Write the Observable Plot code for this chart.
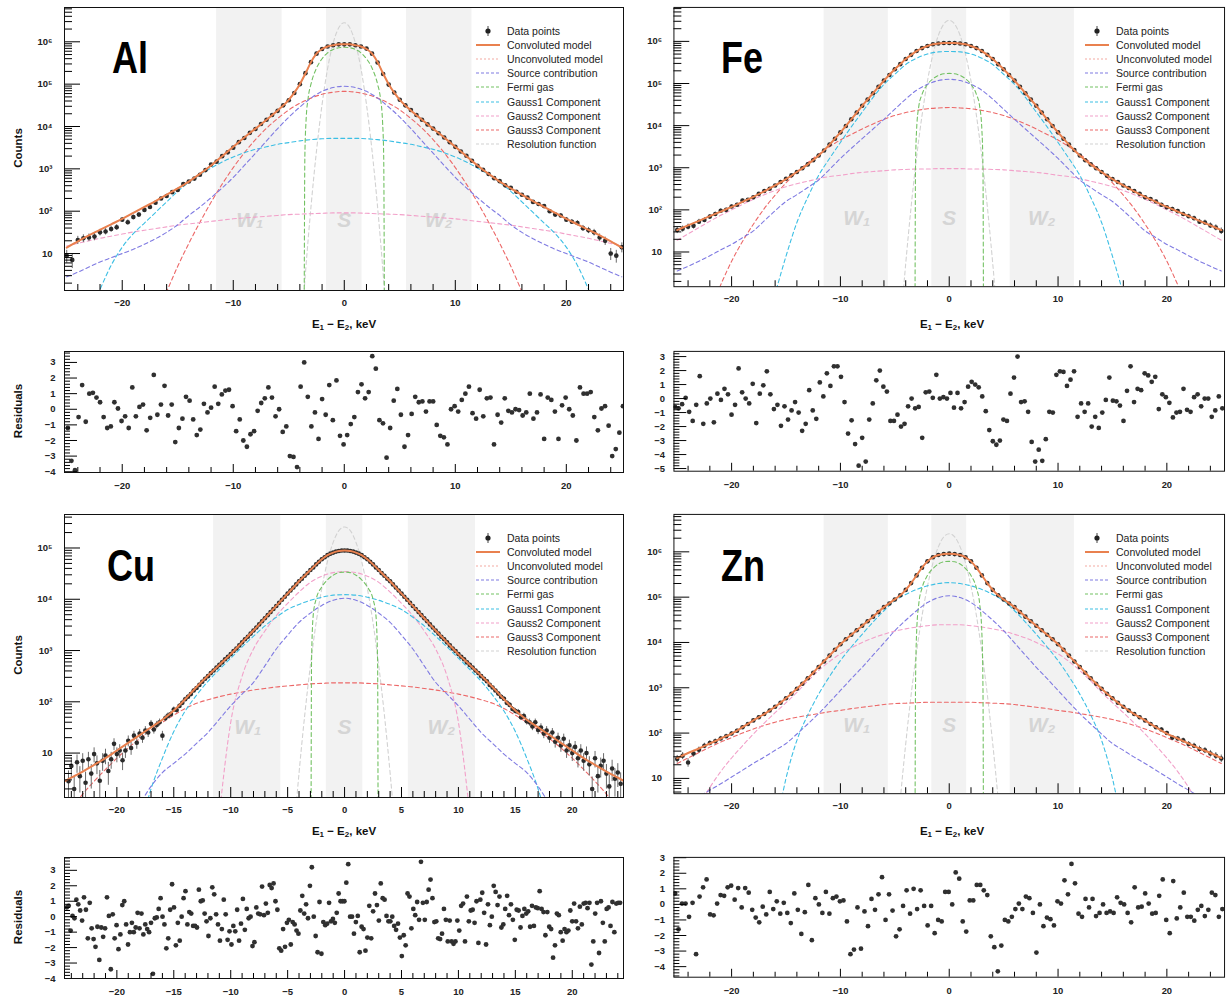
<!DOCTYPE html>
<html><head><meta charset="utf-8">
<script src="https://cdn.jsdelivr.net/npm/d3@7"></script>
<script src="https://cdn.jsdelivr.net/npm/@observablehq/plot@0.6"></script>
<style>
html,body{margin:0;padding:0;background:#fff;}
#root{position:relative;width:1229px;height:1000px;overflow:hidden;background:#fff;font-family:"Liberation Sans",Arial,sans-serif;}
.abs{position:absolute;}
.legend{position:absolute;font-size:10.5px;color:#222;}
.legend .row{height:14.1px;display:flex;align-items:center;white-space:nowrap;}
.legend svg{width:26px;height:14px;margin-right:6px;flex:none;}
.vlab{position:absolute;font-weight:bold;font-size:11.5px;color:#111;transform:translate(-50%,-50%) rotate(-90deg);white-space:nowrap;}
.xlab{position:absolute;font-weight:bold;font-size:11.5px;color:#111;transform:translate(-50%,-50%);white-space:nowrap;}
.xlab sub{font-size:8px;vertical-align:-2px;}
.elem{position:absolute;}
</style></head>
<body><div id="root"></div>
<script>
// ---------------- grids (keV, |E1-E2|, curves are symmetric) ----------------
const gridH = [0,0.5,1,1.5,2,2.5,3,3.5,4,4.5,5,6,7,8,9,10,11,12,13,14,15,16,17,18,19,20,21,22,23,24,25];
const gridB = [0,1,2,3,4,5,6,7,8,9,10,11,12,13,14,15,16,17,18,19,20,21,22,23,24,25];
const gridN = [0,0.5,1,1.5,2,2.5,3,3.5,4,4.5,5];

// ---------------- Al (log10 counts) ----------------
const alConv = [5.94,5.94,5.92,5.89,5.83,5.72,5.52,5.25,5.0,4.8,4.63,4.38,4.16,3.95,3.74,3.52,3.3,3.08,2.88,2.7,2.54,2.39,2.24,2.1,1.96,1.82,1.69,1.56,1.43,1.29,1.14];
const alUnconv = alConv;
const alSource = [4.95,4.92,4.83,4.67,4.46,4.22,3.95,3.66,3.37,3.08,2.8,2.55,2.32,2.1,1.9,1.68,1.5,1.35,1.22,1.1,1.0,0.9,0.8,0.68,0.56,0.45];
const alG1 = [3.72,3.72,3.71,3.69,3.66,3.62,3.58,3.52,3.46,3.38,3.28,3.16,3.02,2.86,2.68,2.47,2.22,1.97,1.72,1.47,1.15,0.72,0.15,-0.5,-1.2,-2.0];
const alG2 = [1.96,1.96,1.95,1.94,1.93,1.92,1.9,1.88,1.86,1.84,1.82,1.79,1.76,1.73,1.7,1.67,1.63,1.59,1.55,1.51,1.46,1.41,1.36,1.3,1.24,1.18];
const alG3 = [4.83,4.81,4.76,4.67,4.55,4.39,4.19,3.96,3.69,3.38,3.03,2.64,2.21,1.74,1.24,0.7,0.1,-0.5,-1.2,-2.0,-2.8,-3.6,-4.5,-5.5,-6.5,-7.5];
const alRes = [6.45,6.33,5.97,5.37,4.52,3.43,2.1,0.53,-1.3,-3.4,-5.7];
const alFermiX = [0,0.5,1,1.5,2,2.5,3,3.25,3.45,3.55,3.62];
const alFermi = [5.87,5.86,5.82,5.74,5.6,5.38,5.0,4.68,4.1,3.3,-1];
const alData = [0.95,0.85,1.32,1.36,1.38,1.4,1.5,1.52,1.58,1.62,1.8,1.74,1.86,1.92,2.03,2.1,2.2,2.3,2.36,2.45,2.5,2.64,2.7,2.77,2.86,2.97,3.1,3.17,3.3,3.39,3.5,3.63,3.73,3.85,3.94,4.06,4.16,4.27,4.37,4.5,4.62,4.79,5.0,5.26,5.52,5.72,5.83,5.89,5.92,5.94,5.94,5.94,5.92,5.89,5.84,5.72,5.51,5.24,4.99,4.8,4.63,4.5,4.39,4.27,4.16,4.05,3.95,3.84,3.74,3.63,3.52,3.41,3.31,3.19,3.07,2.98,2.88,2.78,2.71,2.61,2.55,2.46,2.39,2.32,2.22,2.17,2.12,2.0,1.92,1.9,1.8,1.75,1.72,1.6,1.55,1.5,1.38,1.3,1.0,0.95,1.15];
const alResid = [-1.2,-3.3,-3.9,-0.5,1.55,-0.8,1.0,1.05,0.75,0.45,-0.5,-1.2,-1.1,0.45,0.05,-0.75,-0.45,-1.2,1.4,-0.45,0.15,0.3,-1.35,-0.55,2.2,-0.35,0.3,1.5,-0.4,0.3,-2.1,-1.2,-0.6,0.8,0.55,-0.65,-1.65,-1.3,0.35,-0.2,0.1,1.45,0.35,0.95,1.2,1.25,0.2,-1.4,-0.65,-2.0,-2.4,-1.6,-1.4,-0.1,0.4,0.7,1.4,0.75,-0.45,0.0,-1.45,-1.1,-3.0,-3.05,-3.7,1.45,3.0,0.8,-1.1,-0.2,-1.9,0.65,-0.35,1.55,-0.7,1.85,-1.7,-2.25,-1.65,-0.95,-0.5,1.1,1.6,0.7,1.1,3.4,2.6,-0.7,-0.9,-3.1,-1.2,0.55,1.3,-0.35,-2.4,-1.65,-0.3,0.8,0.45,0.5,-0.15,0.5,0.5,-1.0,-1.7,-1.8,-2.25,0.0,0.2,-0.15,0.6,1.0,1.45,-0.25,-0.6,1.25,-0.45,0.7,0.75,-2.25,-0.35,-0.85,0.7,-0.1,-0.2,0.0,-0.05,-0.4,-0.2,1.0,-0.6,-0.2,0.95,-1.9,0.75,0.6,-0.15,-1.9,0.25,0.75,0.0,-0.4,-2.0,1.4,1.0,1.0,1.1,-0.5,-1.35,0.05,0.2,-1.05,-3.0,-2.55,-1.5,0.2];

// ---------------- Fe ----------------
const feConv = [5.96,5.96,5.95,5.93,5.89,5.84,5.77,5.68,5.58,5.46,5.34,5.07,4.77,4.47,4.15,3.84,3.55,3.29,3.08,2.9,2.73,2.58,2.44,2.31,2.19,2.07,1.96,1.85,1.74,1.63,1.52];
const feUnconv = feConv;
const feSource = [5.1,5.07,4.98,4.84,4.63,4.39,4.15,3.92,3.69,3.46,3.22,2.96,2.71,2.53,2.36,2.2,1.98,1.74,1.5,1.34,1.18,1.05,0.91,0.78,0.66,0.55];
const feG1 = [5.76,5.75,5.7,5.6,5.45,5.22,4.98,4.67,4.32,3.97,3.6,3.22,2.82,2.3,1.7,0.9,0.0,-1.0,-2.1,-3.3,-4.6,-6,-7.5,-9,-10.5,-12];
const feG2 = [2.98,2.98,2.97,2.97,2.96,2.95,2.93,2.91,2.89,2.86,2.82,2.79,2.74,2.68,2.62,2.55,2.46,2.36,2.25,2.13,2.0,1.87,1.73,1.58,1.43,1.28];
const feG3 = [4.43,4.42,4.4,4.36,4.31,4.24,4.15,4.04,3.92,3.79,3.66,3.5,3.32,3.12,2.9,2.64,2.35,2.03,1.66,1.25,0.78,0.22,-0.4,-1.1,-1.9,-2.8];
const feRes = [6.5,6.41,6.14,5.69,5.06,4.24,3.25,2.08,0.72,-0.8,-2.5];
const feFermiX = [0,0.5,1,1.5,2,2.5,2.8,3.0,3.1,3.15];
const feFermi = [5.24,5.23,5.19,5.11,4.98,4.74,4.45,3.9,3.0,-1];
const feData = [1.52,1.55,1.6,1.62,1.72,1.76,1.84,1.9,1.98,2.0,2.08,2.12,2.22,2.24,2.3,2.38,2.45,2.5,2.58,2.66,2.74,2.82,2.9,2.99,3.08,3.18,3.29,3.41,3.55,3.69,3.84,3.99,4.15,4.31,4.47,4.62,4.77,4.92,5.07,5.2,5.34,5.46,5.58,5.68,5.77,5.84,5.89,5.93,5.95,5.96,5.96,5.96,5.95,5.93,5.89,5.84,5.77,5.68,5.58,5.46,5.34,5.2,5.07,4.92,4.77,4.62,4.47,4.31,4.15,3.99,3.84,3.69,3.55,3.42,3.29,3.18,3.08,2.99,2.9,2.81,2.73,2.66,2.58,2.52,2.45,2.38,2.3,2.26,2.2,2.12,2.06,2.02,1.97,1.9,1.85,1.8,1.72,1.7,1.63,1.58,1.5];
const feResid = [-0.6,-0.7,-0.4,0.05,-0.95,-1.6,-0.45,1.6,-1.8,-0.35,0.0,-1.7,0.35,-0.1,0.7,0.3,-1.15,-0.45,2.15,0.45,0.0,-0.35,1.05,-1.75,0.35,0.95,1.95,0.3,-0.75,-0.45,-1.95,-0.55,-1.5,-0.85,-0.25,-1.0,-2.3,-1.8,0.6,-0.85,-1.45,1.15,0.15,1.8,0.9,2.3,2.3,1.55,-0.25,-2.5,-1.55,-3.25,-4.8,-2.8,-4.5,-1.5,-0.35,1.3,2.0,0.85,0.5,-1.6,-1.6,-1.15,-2.0,-1.8,-0.55,0.0,-0.7,-0.6,-2.8,0.45,0.5,0.05,1.7,0.0,0.1,0.0,0.4,-0.65,0.4,-0.7,-0.25,0.85,1.2,1.0,0.8,0.15,-0.9,-2.25,-3.05,-3.3,-3.0,-1.5,-1.6,0.35,1.5,3.0,-0.25,-0.2,-0.95,-3.1,-4.5,-3.65,-4.45,-2.9,-0.95,-1.0,1.7,1.95,1.9,0.9,1.35,1.95,-1.3,-0.35,-0.95,-0.35,-2.0,-1.3,-2.1,-1.0,-0.1,1.5,-0.15,-0.2,-0.5,-1.6,0.55,2.3,-0.25,0.7,0.6,1.8,1.65,1.2,1.55,-0.75,0.3,0.1,-0.3,-1.35,-1.0,-0.95,0.7,-0.8,-0.95,0.1,0.3,-0.55,0.0,0.0,-1.3,-0.85,0.15,-0.7];

// ---------------- Cu ----------------
const cuConv = [4.95,4.94,4.91,4.86,4.78,4.68,4.57,4.46,4.35,4.23,4.11,3.87,3.63,3.39,3.16,2.93,2.72,2.51,2.29,2.05,1.83,1.65,1.5,1.35,1.2,1.05,0.9,0.77,0.64,0.52,0.4];
const cuUnconv = cuConv;
const cuSource = [4.02,3.98,3.88,3.73,3.55,3.3,3.03,2.7,2.38,2.15,1.92,1.66,1.4,1.19,0.98,0.8,0.62,0.35,0.0,-0.4,-0.8,-1.2,-1.6,-2.0,-2.4,-2.8];
const cuG1 = [4.09,4.08,4.04,3.98,3.9,3.8,3.65,3.48,3.28,3.07,2.85,2.63,2.4,2.13,1.82,1.42,0.9,0.3,-0.5,-1.5,-2.7,-4,-5.5,-7,-8.5,-10];
const cuG2 = [4.54,4.52,4.45,4.33,4.14,3.92,3.68,3.38,3.03,2.5,1.6,-0.2,-2.5,-5,-7.5,-10,-12.5,-15,-17.5,-20,-22.5,-25,-27.5,-30,-32.5,-35];
const cuG3 = [2.37,2.37,2.36,2.35,2.33,2.31,2.29,2.26,2.23,2.19,2.15,2.1,2.04,1.97,1.87,1.74,1.6,1.45,1.28,1.1,0.9,0.68,0.45,0.2,-0.08,-0.4];
const cuRes = [5.41,5.34,5.11,4.74,4.21,3.54,2.71,1.74,0.61,-0.67,-2.1];
const cuFermiX = [0,0.5,1,1.5,2,2.5,2.75,2.9,2.95];
const cuFermi = [4.53,4.52,4.47,4.38,4.24,4.0,3.7,2.8,-1];
const cuData = [0.45,0.75,0.3,0.82,0.55,0.85,0.42,0.88,0.6,0.98,0.8,0.46,0.85,0.95,0.65,0.88,1.18,0.98,1.05,0.86,1.05,1.24,1.1,1.34,1.2,1.38,1.3,1.44,1.4,1.57,1.46,1.55,1.6,1.34,1.68,1.73,1.76,1.85,1.84,1.92,1.98,2.05,2.1,2.15,2.22,2.27,2.33,2.39,2.45,2.5,2.56,2.61,2.67,2.72,2.77,2.83,2.88,2.93,2.99,3.04,3.1,3.16,3.22,3.27,3.33,3.39,3.45,3.51,3.57,3.63,3.69,3.75,3.81,3.87,3.93,3.99,4.05,4.11,4.17,4.23,4.29,4.35,4.4,4.46,4.51,4.57,4.62,4.68,4.73,4.78,4.82,4.86,4.89,4.91,4.93,4.94,4.95,4.95,
4.95,4.94,4.93,4.91,4.89,4.86,4.82,4.78,4.73,4.68,4.62,4.57,4.51,4.46,4.4,4.35,4.29,4.23,4.17,4.11,4.05,3.99,3.93,3.87,3.81,3.75,3.69,3.63,3.57,3.51,3.45,3.39,3.33,3.27,3.22,3.16,3.1,3.04,2.99,2.93,2.88,2.83,2.77,2.72,2.67,2.61,2.56,2.5,2.45,2.4,2.33,2.28,2.22,2.16,2.1,2.06,1.98,1.94,1.86,1.82,1.8,1.7,1.72,1.62,1.6,1.52,1.6,1.45,1.5,1.38,1.44,1.3,1.4,1.22,1.3,1.15,1.28,1.05,1.15,1.0,1.12,0.9,1.05,0.85,1.0,0.78,0.3,0.9,0.55,0.75,0.85,0.6,0.35,0.7,0.5,0.62,0.4];
const cuResid = [0.6,0.7,-0.9,0.05,-0.1,1.1,0.8,0.4,-0.25,1.25,0.45,-1.4,0.9,-0.75,-1.45,-1.95,-0.65,-2.8,-0.7,-1.3,-0.75,1.25,0.05,-3.4,0.15,-1.4,-0.55,-2.1,-1.15,0.75,1.0,-0.5,-1.8,-1.0,-0.4,-1.0,-0.7,0.25,-0.75,0.2,-1.15,-0.5,-0.8,-1.0,-0.4,-3.7,-0.1,-0.05,0.5,1.2,0.0,-0.5,-2.05,-1.4,0.45,2.1,0.6,-1.85,-0.4,-1.55,0.0,1.2,1.65,-0.5,0.3,0.2,-0.6,-0.6,-0.7,1.75,1.0,1.05,0.2,-0.3,-1.25,-0.1,1.9,1.45,0.15,-0.5,-1.55,-0.8,1.1,0.15,-1.5,-0.95,-1.8,-0.6,-0.95,0.45,-1.55,-0.45,1.15,-0.85,0.5,-0.1,0.0,-1.9,-1.65,0.6,0.2,0.15,1.95,0.1,0.85,0.25,2.05,1.85,2.15,1.0,0.45,-2.05,-2.2,-0.8,-1.95,-0.4,-0.2,-1.8,-0.35,-0.5,-0.9,-1.1,0.4,1.35,0.2,0.8,-0.1,2.0,3.2,0.0,-1.25,-2.3,0.95,-2.4,-0.35,-0.55,-0.45,0.9,-0.3,-0.15,-0.4,0.25,1.5,1.0,1.0,1.0,2.2,3.4,0.0,0.0,-1.1,-0.35,0.05,-2.3,-0.65,-0.8,-2.2,-1.35,0.7,-1.4,0.35,1.5,0.75,-0.25,2.15,1.2,1.1,0.05,-0.3,-0.3,0.0,-0.6,-0.85,-0.45,-1.35,-2.55,-1.2,-1.85,1.5,1.3,-0.75,0.5,0.1,0.95,-0.2,3.55,0.9,-0.2,0.95,1.75,2.4,1.2,-0.35,-0.3,-1.4,-1.45,-1.1,0.5,-0.2,-1.6,-0.25,-1.6,-1.75,-1.6,-0.25,-0.9,0.7,0.85,-1.6,1.3,-0.3,0.4,0.45,-0.4,1.0,-1.7,1.1,1.55,0.25,-1.8,0.8,-0.55,0.0,2.0,1.6,0.75,1.3,-0.7,-0.5,0.5,1.35,0.1,0.8,-0.2,-1.5,0.45,0.4,-0.7,0.05,0.5,0.2,0.35,-0.65,0.7,-0.6,0.6,0.55,1.65,0.5,0.3,-1.2,0.3,-0.65,-0.8,-2.65,-1.85,0.2,0.1,-1.0,-1.55,-0.8,-1.0,-0.9,0.4,-0.3,0.85,-0.3,-0.75,0.65,-0.5,0.85,0.9,0.55,0.9,-3.1,-1.6,0.2,0.9,-2.35,1.0,-0.4,-1.6,0.5,0.6,-0.6,0.95,-1.0,0.85,0.9,0.9];

// ---------------- Zn ----------------
const znConv = [5.96,5.95,5.93,5.88,5.79,5.65,5.48,5.31,5.16,5.04,4.95,4.78,4.57,4.37,4.17,3.96,3.71,3.46,3.21,2.98,2.77,2.58,2.42,2.28,2.13,1.99,1.88,1.77,1.66,1.56,1.45];
const znUnconv = znConv;
const znSource = [5.03,4.99,4.88,4.7,4.49,4.26,3.99,3.72,3.45,3.2,2.94,2.68,2.43,2.2,1.98,1.77,1.62,1.47,1.33,1.18,1.03,0.88,0.74,0.6,0.46,0.32];
const znG1 = [5.32,5.3,5.25,5.17,5.06,4.92,4.7,4.45,4.18,3.9,3.6,3.25,2.86,2.4,1.84,1.0,-0.2,-1.6,-3.2,-5,-7,-9,-11,-13,-15,-17];
const znG2 = [4.39,4.39,4.37,4.34,4.3,4.25,4.18,4.1,4.0,3.88,3.75,3.58,3.38,3.15,2.9,2.67,2.45,2.22,1.98,1.72,1.45,1.15,0.8,0.4,-0.1,-0.7];
const znG3 = [2.68,2.68,2.68,2.67,2.66,2.65,2.63,2.6,2.57,2.54,2.5,2.47,2.43,2.39,2.35,2.3,2.24,2.17,2.09,2.0,1.9,1.8,1.69,1.57,1.45,1.33];
const znRes = [6.4,6.33,6.11,5.75,5.24,4.59,3.79,2.85,1.76,0.53,-0.85];
const znFermiX = [0,0.5,1,1.5,2,2.5,2.8,3.0,3.1,3.15];
const znFermi = [5.79,5.78,5.73,5.63,5.48,5.2,4.85,4.2,3.0,-1];
const znData = [1.43,1.5,1.35,1.55,1.63,1.72,1.78,1.82,1.88,1.93,1.99,2.05,2.13,2.2,2.28,2.35,2.42,2.5,2.58,2.67,2.77,2.87,2.98,3.09,3.21,3.33,3.46,3.58,3.71,3.84,3.96,4.07,4.17,4.27,4.37,4.47,4.57,4.67,4.78,4.86,4.95,5.04,5.16,5.31,5.48,5.65,5.79,5.88,5.93,5.95,5.96,5.95,5.93,5.88,5.79,5.65,5.48,5.31,5.16,5.04,4.95,4.86,4.78,4.67,4.57,4.47,4.37,4.27,4.17,4.07,3.96,3.84,3.71,3.58,3.46,3.33,3.21,3.09,2.98,2.87,2.77,2.67,2.58,2.5,2.42,2.35,2.28,2.2,2.13,2.08,2.0,1.9,1.88,1.84,1.76,1.72,1.65,1.62,1.55,1.5,1.44];
const znResid = [0.7,-1.6,0.05,0.05,-0.8,0.1,-3.2,0.5,1.1,1.6,-0.65,-0.7,0.05,0.6,0.55,1.1,1.2,0.3,1.05,-0.2,1.05,0.75,-0.35,-0.85,-1.15,-0.15,-0.65,0.8,-0.3,0.2,-0.6,0.1,-0.55,-1.2,0.7,-0.35,-1.9,-0.5,1.25,-2.3,0.4,0.0,-0.55,0.8,-0.6,0.4,0.5,0.2,0.25,-1.1,-3.2,-2.9,-0.2,-2.85,-0.45,-1.4,0.35,-0.35,0.65,1.75,-1.0,0.65,-0.4,-2.05,-1.6,-0.1,0.9,-0.6,1.0,-0.3,0.9,-0.1,-1.35,-0.1,-1.85,-1.0,-1.1,0.8,0.8,0.0,2.05,1.65,-1.1,-1.75,0.25,0.25,1.25,1.25,0.9,0.6,-2.05,-2.75,-4.3,-2.65,-1.0,-1.1,-0.8,-0.3,0.05,-0.3,0.5,0.4,-0.55,-3.1,0.0,-1.4,-0.85,-0.95,-1.35,0.2,0.05,1.55,0.65,2.6,1.35,-0.6,-0.8,0.35,-0.2,0.35,-0.75,-0.55,0.0,-0.55,-0.45,-0.55,0.45,0.1,0.0,-0.55,-1.15,1.1,-0.2,-0.15,0.7,0.05,-0.6,-0.55,0.55,1.6,-1.0,-1.85,1.5,-0.9,-0.2,0.75,-0.8,-0.8,-1.05,-0.35,-0.1,-0.75,-0.35,0.75,0.6,-0.8,-0.3];

// ---------------- regions, ticks, labels ----------------
const bands = [{a:-11.5,b:-5.6},{a:-1.6,b:1.6},{a:5.6,b:11.5}];
const bandLabels = [{x:-8.5,t:"W₁"},{x:0,t:"S"},{x:8.5,t:"W₂"}];
const ticks10 = [-20,-10,0,10,20];
const ticks5 = [-20,-15,-10,-5,0,5,10,15,20];
const decades6 = [10,1e2,1e3,1e4,1e5,1e6];
const decades5 = [10,1e2,1e3,1e4,1e5];
const legendLabels = ["Data points","Convoluted model","Unconvoluted model","Source contribution","Fermi gas","Gauss1 Component","Gauss2 Component","Gauss3 Component","Resolution function"];
const elementNames = ["Al","Fe","Cu","Zn"];

const colors = {conv:"#e9814f", unconv:"#f3aaa2", source:"#7f7ae2", fermi:"#73c163", g1:"#3cbfe4", g2:"#f2a0c9", g3:"#ec6868", res:"#d2d2d2"};
const legendKeys = ["data","conv","unconv","source","fermi","g1","g2","g3","res"];

const sup = {2:"²",3:"³",4:"⁴",5:"⁵",6:"⁶"};
const fmtPow = d => { const e = Math.round(Math.log10(d)); return e === 1 ? "10" : "10" + sup[e]; };

function mirror(xs, vs) {
  const pts = [];
  for (let i = xs.length - 1; i > 0; i--) pts.push({x: -xs[i], y: 10 ** vs[i]});
  for (let i = 0; i < xs.length; i++) pts.push({x: xs[i], y: 10 ** vs[i]});
  return pts;
}
function binned(vals, lo, hi) {
  const n = vals.length, step = (hi - lo) / (n - 1);
  return vals.map((v, i) => ({x: lo + i * step, v}));
}

const root = document.getElementById("root");
function place(node, left, top) {
  const d = document.createElement("div");
  d.className = "abs"; d.style.left = left + "px"; d.style.top = top + "px";
  d.appendChild(node); root.appendChild(d);
}
function html(cls, left, top, inner) {
  const d = document.createElement("div");
  d.className = cls; d.style.left = left + "px"; d.style.top = top + "px";
  d.innerHTML = inner; root.appendChild(d);
}

const baseStyle = {fontFamily: "'Liberation Sans', Arial, sans-serif", fontSize: "9.5px", fontWeight: "bold", color: "#222", background: "transparent"};

function mainPanel(p) {
  const fw = p.w - p.ml - p.mr, fh = p.h - p.mt - p.mb;
  const data = p.data.map((v, i) => { const c = 10 ** v; return {x: p.dataLo + i * p.dataStep, c, lo: c - Math.sqrt(c), hi: c + Math.sqrt(c)}; });
  const minorY = [];
  for (let e = 0; e <= 6; e++) for (let m = 2; m <= 9; m++) { const v = m * 10 ** e; if (v > p.yd[0] && v < p.yd[1]) minorY.push(v); }
  const minorX = d3.range(-30, 31, p.xMinor).filter(v => v > p.xd[0] && v < p.xd[1] && !p.xt.includes(v));
  const dash = "4,3";
  const line = (pts, key, extra = {}) => Plot.line(pts, {x: "x", y: "y", stroke: colors[key], strokeWidth: 1.1, strokeDasharray: dash, curve: "monotone-x", clip: true, ...extra});
  return Plot.plot({
    width: p.w, height: p.h, marginLeft: p.ml, marginRight: p.mr, marginTop: p.mt, marginBottom: p.mb,
    style: baseStyle,
    x: {domain: p.xd, ticks: p.xt, tickSize: 0, tickPadding: 9, label: null},
    y: {type: "log", domain: p.yd, ticks: p.decades, tickFormat: fmtPow, tickSize: 0, tickPadding: 12, label: null},
    marks: [
      Plot.rect(bands, {x1: "a", x2: "b", y1: () => p.yd[0], y2: () => p.yd[1], fill: "#f2f2f2"}),
      Plot.text(bandLabels, {x: "x", y: () => p.bandY, text: "t", fontSize: 21, fontStyle: "italic", fontWeight: "bold", fill: "#d5d5d5"}),
      line(mirror(gridN, p.res), "res"),
      line(mirror(gridB, p.g3), "g3"),
      line(mirror(gridB, p.g2), "g2"),
      line(mirror(gridB, p.g1), "g1"),
      line(mirror(p.fermiX, p.fermi), "fermi"),
      line(mirror(gridB, p.source), "source"),
      line(mirror(gridH, p.unconv), "unconv", {strokeDasharray: "2,2"}),
      Plot.ruleX(data, {x: "x", y1: "lo", y2: "hi", stroke: "#6a6a6a", strokeWidth: 1, clip: true}),
      Plot.dot(data, {x: "x", y: "c", r: 2.3, fill: "#2b2b2b", stroke: "none", clip: true}),
      Plot.line(mirror(gridH, p.conv), {x: "x", y: "y", stroke: colors.conv, strokeWidth: 2, curve: "monotone-x", clip: true}),
      Plot.ruleY(p.decades, {y: d => d, insetRight: fw - 16, stroke: "#000"}),
      Plot.ruleY(minorY, {y: d => d, insetRight: fw - 8, stroke: "#000"}),
      Plot.ruleX(p.xt, {x: d => d, insetTop: fh - 10, stroke: "#000"}),
      Plot.ruleX(minorX, {x: d => d, insetTop: fh - 6, stroke: "#000"}),
      Plot.frame({stroke: "#111", strokeWidth: 1})
    ]
  });
}

function residPanel(p) {
  const fw = p.w - p.ml - p.mr, fh = p.h - p.mt - p.mb;
  const pts = binned(p.vals, p.lo, p.hi);
  const majorY = d3.range(Math.ceil(p.yd[0]), Math.floor(p.yd[1]) + 1);
  const minorY = d3.range(-60, 60).map(k => k / 5).filter(v => v > p.yd[0] && v < p.yd[1] && !majorY.includes(v));
  const minorX = d3.range(-30, 31, p.xMinor).filter(v => v > p.xd[0] && v < p.xd[1] && !p.xt.includes(v));
  return Plot.plot({
    width: p.w, height: p.h, marginLeft: p.ml, marginRight: p.mr, marginTop: p.mt, marginBottom: p.mb,
    style: baseStyle,
    x: {domain: p.xd, ticks: p.xt, tickSize: 0, tickPadding: 10, label: null},
    y: {domain: p.yd, ticks: majorY, tickSize: 0, tickPadding: 9, label: null},
    marks: [
      Plot.dot(pts, {x: "x", y: "v", r: 2.4, fill: "#303030", stroke: "none", clip: true}),
      Plot.ruleY(majorY, {y: d => d, insetRight: fw - 13, stroke: "#000"}),
      Plot.ruleY(minorY, {y: d => d, insetRight: fw - 6, stroke: "#000"}),
      Plot.ruleX(p.xt, {x: d => d, insetTop: fh - 8, stroke: "#000"}),
      Plot.ruleX(minorX, {x: d => d, insetTop: fh - 5, stroke: "#000"}),
      Plot.frame({stroke: "#111", strokeWidth: 1})
    ]
  });
}

function legend(left, top) {
  const rows = legendLabels.map((lab, i) => {
    const k = legendKeys[i];
    let g;
    if (k === "data") g = `<line x1="13" x2="13" y1="2" y2="12" stroke="#444" stroke-width="1"/><circle cx="13" cy="7" r="2.6" fill="#222"/>`;
    else if (k === "conv") g = `<line x1="1" x2="25" y1="7" y2="7" stroke="${colors.conv}" stroke-width="2"/>`;
    else g = `<line x1="1" x2="25" y1="7" y2="7" stroke="${colors[k]}" stroke-width="1.2" stroke-dasharray="${k === 'unconv' ? '2,2' : '3,2'}"/>`;
    return `<div class="row"><svg viewBox="0 0 26 14">${g}</svg><span>${lab}</span></div>`;
  }).join("");
  html("legend", left, top, rows);
}

// big element label: condensed bold text, baseline at (left, baseline)
function elementLabel(name, left, baseline) {
  html("elem", left, baseline - 42, `<svg width="70" height="52" style="overflow:visible"><text x="0" y="42" transform="scale(0.8,1)" font-family="Liberation Sans, Arial, sans-serif" font-weight="bold" font-size="45" fill="#000">${name}</text></svg>`);
}

const L = {w: 625, ml: 64, mr: 2};
const R = {w: 620, ml: 59, mr: 5};

// Al
place(mainPanel({...L, h: 340, mt: 7, mb: 50, xd: [-25.2, 25.15], xt: ticks10, xMinor: 2, yd: [1.34, 6.46e6], decades: decades6,
  conv: alConv, unconv: alUnconv, source: alSource, g1: alG1, g2: alG2, g3: alG3, res: alRes, fermiX: alFermiX, fermi: alFermi,
  data: alData, dataLo: -25, dataStep: 0.5, bandY: 60}), 0, 0);
place(residPanel({...L, h: 160, mt: 11, mb: 28, xd: [-25.2, 25.15], xt: ticks10, xMinor: 2, yd: [-4.05, 3.7], vals: alResid, lo: -24.9, hi: 25.1}), 0, 340);
// Fe
place(mainPanel({...R, h: 340, mt: 7, mb: 51, xd: [-25.3, 25.3], xt: ticks10, xMinor: 2, yd: [1.5, 6.4e6], decades: decades6,
  conv: feConv, unconv: feUnconv, source: feSource, g1: feG1, g2: feG2, g3: feG3, res: feRes, fermiX: feFermiX, fermi: feFermi,
  data: feData, dataLo: -25, dataStep: 0.5, bandY: 63}), 615, 0);
place(residPanel({...R, h: 160, mt: 11, mb: 28, xd: [-25.3, 25.3], xt: ticks10, xMinor: 2, yd: [-5.19, 3.37], vals: feResid, lo: -25.2, hi: 25.1}), 615, 340);
// Cu
place(mainPanel({...L, h: 340, mt: 9, mb: 48, xd: [-24.6, 24.5], xt: ticks5, xMinor: 1, yd: [1.36, 4.5e5], decades: decades5,
  conv: cuConv, unconv: cuUnconv, source: cuSource, g1: cuG1, g2: cuG2, g3: cuG3, res: cuRes, fermiX: cuFermiX, fermi: cuFermi,
  data: cuData, dataLo: -24.25, dataStep: 0.25, bandY: 32}), 0, 505);
place(residPanel({...L, h: 155, mt: 12, mb: 22, xd: [-24.6, 24.5], xt: ticks5, xMinor: 1, yd: [-4.0, 3.83], vals: cuResid, lo: -24.4, hi: 24.2}), 0, 845);
// Zn
place(mainPanel({...R, h: 340, mt: 9, mb: 49, xd: [-25.3, 25.3], xt: ticks10, xMinor: 2, yd: [4.6, 6.7e6], decades: decades6,
  conv: znConv, unconv: znUnconv, source: znSource, g1: znG1, g2: znG2, g3: znG3, res: znRes, fermiX: znFermiX, fermi: znFermi,
  data: znData, dataLo: -25, dataStep: 0.5, bandY: 150}), 615, 505);
place(residPanel({...R, h: 155, mt: 12, mb: 22, xd: [-25.3, 25.3], xt: ticks10, xMinor: 2, yd: [-4.68, 3.02], vals: znResid, lo: -25.2, hi: 25.1}), 615, 845);

// element names
elementLabel(elementNames[0], 112, 73);
elementLabel(elementNames[1], 721, 73);
elementLabel(elementNames[2], 107, 581);
elementLabel(elementNames[3], 721, 581);

// legends
legend(475, 24); legend(1084, 24); legend(475, 531); legend(1084, 531);

// axis titles
const xTitle = "E<sub>1</sub> − E<sub>2</sub>, keV";
html("xlab", 344, 325, xTitle); html("xlab", 952, 325, xTitle);
html("xlab", 344, 832, xTitle); html("xlab", 952, 832, xTitle);
html("vlab", 18, 148, "Counts"); html("vlab", 18, 655, "Counts");
html("vlab", 18, 411, "Residuals"); html("vlab", 18, 917, "Residuals");
</script></body></html>
